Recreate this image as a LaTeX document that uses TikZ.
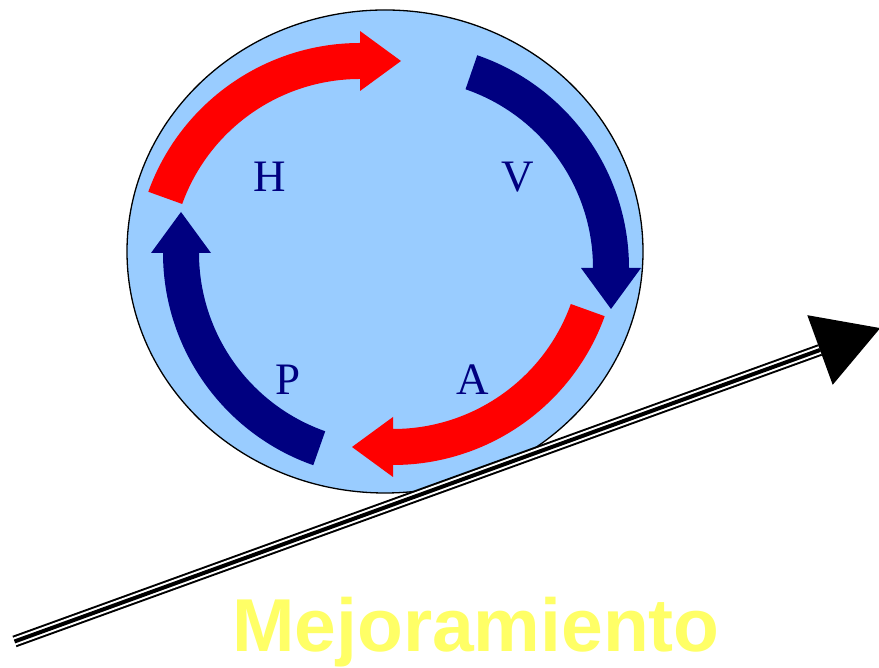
\documentclass[tikz,border=0pt]{standalone}
\usepackage{fontspec}
\setmainfont{Liberation Serif}
\setsansfont{Liberation Sans}
\usetikzlibrary{calc}

\definecolor{circfill}{RGB}{153,204,255}
\definecolor{darknavy}{RGB}{0,0,128}
\definecolor{loopred}{RGB}{255,0,0}
\definecolor{mejyellow}{RGB}{255,255,102}

% thick curved arrow: colour, centre, start angle, end angle, end angle - 90
\newcommand{\looparrow}[5]{%
	\fill[#1] ($(#2)+(#3:189)$) arc[start angle=#3, end angle=#4, radius=189pt]
	-- ($(#2)+(#4:177)$) -- ($(#2)+(#4:207)+(#5:41)$) -- ($(#2)+(#4:237)$)
	-- ($(#2)+(#4:225)$) arc[start angle=#4, end angle=#3, radius=225pt] -- cycle;
}

\begin{document}
\begin{tikzpicture}[
		x=1pt, y=1pt,
		letter/.style={text=darknavy, font=\fontsize{45}{54}\selectfont, inner sep=0pt},
		title/.style={text=mejyellow, font=\fontsize{75}{90}\selectfont\sffamily\bfseries, inner sep=0pt}
		]
		\useasboundingbox (0,0) rectangle (879,668);
		
		% the cycle
		\draw[fill=circfill, draw=black, line width=1.3pt] (385,416.5) ellipse[x radius=258, y radius=241.5];
		
		\looparrow{loopred}{360,400}{160.2}{90}{0}
		\looparrow{darknavy}{404,400}{71}{0}{-90}
		\looparrow{loopred}{393,428}{-19.8}{-90}{-180}
		\looparrow{darknavy}{388,415}{250.6}{180}{90}
		
		\node[letter] (h) at (269.5,491) {H};
		\node[letter] (v) at (517.5,491) {V};
		\node[letter] (p) at (288,288) {P};
		\node[letter] (a) at (472.5,288) {A};
		
		% improvement line
		\coordinate (start) at (14.5,26.5);
		\coordinate (base) at (820,318);
		\draw[line width=12pt] (start) -- (base);
		\draw[white, line width=8pt, shorten <=-1pt] (start) -- (base);
		\draw[line width=4pt] (start) -- (base);
		\fill (807.3,352.8) -- (880.2,339.9) -- (832.7,283.2) -- cycle;
		
		\node[title, anchor=base] (mej) at (476,16) {Mejoramiento};
		
	\end{tikzpicture}
\end{document}
